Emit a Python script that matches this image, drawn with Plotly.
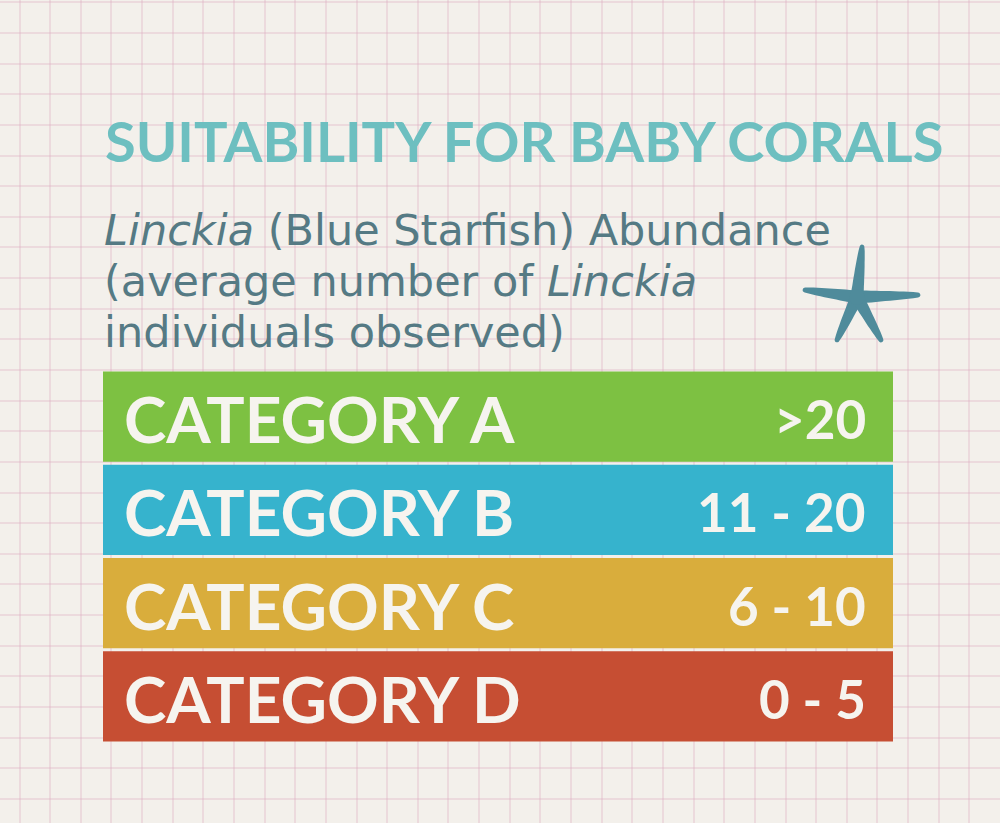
import numpy as np
import plotly.graph_objects as go

# ---- data ----
title_text = "SUITABILITY FOR BABY CORALS"
subtitle_lines = [
    "<i>Linckia</i> (Blue Starfish) Abundance",
    "(average number of <i>Linckia</i>",
    "individuals observed)",
]
categories = ["CATEGORY A", "CATEGORY B", "CATEGORY C", "CATEGORY D"]
ranges = [">20", "11 - 20", "6 - 10", "0 - 5"]
bar_colors = ["#7DC142", "#36B3CD", "#D9AD3C", "#C64E33"]
bar_share = [1, 1, 1, 1]

W, H = 1000, 823
BG = "#F3F0EB"
TXT = "#F6F4EF"

fig = go.Figure()

# bars
fig.add_trace(go.Bar(
    y=categories, x=bar_share, orientation="h",
    marker=dict(color=bar_colors, line=dict(width=0)),
    xaxis="x2", yaxis="y2", hoverinfo="skip", showlegend=False,
))

# invisible trace to anchor main (pixel) axes
fig.add_trace(go.Scatter(x=[0], y=[0], mode="markers", marker=dict(opacity=0),
                         hoverinfo="skip", showlegend=False))

annotations = []
for cat, rng in zip(categories, ranges):
    annotations.append(dict(x=0.024, y=cat, xref="x2", yref="y2", text=cat,
                            xanchor="left", yanchor="middle", showarrow=False, yshift=-2,
                            font=dict(family="Lato", size=64, color=TXT, weight=700)))
    annotations.append(dict(x=0.968, y=cat, xref="x2", yref="y2", text=rng,
                            xanchor="right", yanchor="middle", showarrow=False, yshift=-2,
                            font=dict(family="Lato", size=53, color=TXT, weight=700)))

# title
annotations.append(dict(x=103, y=140, xref="x", yref="y", text=title_text,
                        xanchor="left", yanchor="middle", showarrow=False,
                        font=dict(family="Lato", size=56, color="#6DBFC0", weight=700)))
# subtitle
for i, line in enumerate(subtitle_lines):
    annotations.append(dict(x=102, y=230 + 51 * i, xref="x", yref="y", text=line,
                            xanchor="left", yanchor="middle", showarrow=False,
                            font=dict(family="DejaVu Sans", size=43, color="#557A84")))

# starfish decoration
shapes = []
cx, cy = 857, 297
tips = [(862, 247), (805, 290), (918, 295), (837, 340), (881, 340)]
for tx, ty in tips:
    dx, dy = tx - cx, ty - cy
    L = np.hypot(dx, dy)
    ux, uy = dx / L, dy / L
    px, py = -uy, ux
    pts_l, pts_r = [], []
    for t in np.linspace(0, 1, 14):
        w = 6.5 * (1 - t) ** 0.8 + 2.4 * t
        mx, my = cx + dx * t, cy + dy * t
        pts_l.append((mx + px * w, my + py * w))
        pts_r.append((mx - px * w, my - py * w))
    cap = []
    for a in np.linspace(0, np.pi, 8):
        cap.append((tx + px * 2.4 * np.cos(a) + ux * 2.4 * np.sin(a),
                    ty + py * 2.4 * np.cos(a) + uy * 2.4 * np.sin(a)))
    poly = pts_l + cap + pts_r[::-1]
    path = "M " + " L ".join(f"{x:.1f},{y:.1f}" for x, y in poly) + " Z"
    shapes.append(dict(type="path", path=path, xref="x", yref="y",
                       fillcolor="#4F8B9B", line=dict(width=0), layer="above"))
shapes.append(dict(type="circle", xref="x", yref="y", x0=cx - 8, x1=cx + 8, y0=cy - 8, y1=cy + 8,
                   fillcolor="#4F8B9B", line=dict(width=0), layer="above"))

grid = "rgba(222,170,192,0.32)"
fig.update_layout(
    width=W, height=H,
    margin=dict(l=0, r=0, t=0, b=0),
    paper_bgcolor=BG, plot_bgcolor="rgba(0,0,0,0)",
    showlegend=False,
    xaxis=dict(range=[0, W], domain=[0, 1], showgrid=True, gridcolor=grid, gridwidth=2,
               tick0=19.5, dtick=30.64, showticklabels=False, ticks="", zeroline=False,
               showline=False, fixedrange=True),
    yaxis=dict(range=[H, 0], domain=[0, 1], showgrid=True, gridcolor=grid, gridwidth=2,
               tick0=2.3, dtick=30.64, showticklabels=False, ticks="", zeroline=False,
               showline=False, fixedrange=True),
    xaxis2=dict(range=[0, 1], domain=[103 / W, 893 / W], anchor="y2", visible=False,
                fixedrange=True),
    yaxis2=dict(domain=[1 - 743 / H, 1 - 370 / H], anchor="x2", visible=False,
                autorange="reversed", type="category", fixedrange=True),
    bargap=0.03,
    annotations=annotations,
    shapes=shapes,
)

fig.write_html("out.html", config={"displayModeBar": False},
               post_script="document.body.style.margin='0';document.body.style.overflow='hidden';")
